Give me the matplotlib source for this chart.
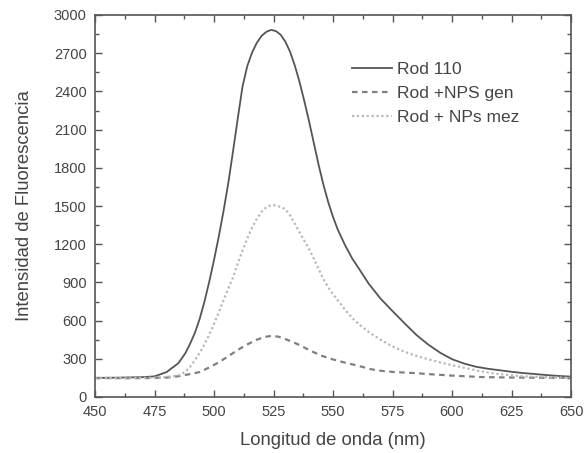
import matplotlib
matplotlib.use("Agg")
import matplotlib.pyplot as plt
from matplotlib.ticker import MultipleLocator

plt.rcParams['font.family'] = ['Liberation Sans', 'DejaVu Sans']

# Rod 110 (solid)
wl_rod = [450, 460, 470, 475, 480, 485, 488, 490, 492, 494, 496, 498, 500, 502, 504,
          506, 508, 510, 512, 514, 516, 518, 520, 522, 524, 526, 528, 530, 532, 534,
          536, 538, 540, 542, 544, 546, 548, 550, 552, 555, 558, 561, 565, 570, 575,
          580, 585, 590, 595, 600, 605, 610, 615, 620, 625, 630, 635, 640, 645, 650]
int_rod = [150, 152, 156, 162, 195, 265, 345, 420, 505, 615, 750, 905, 1075, 1260, 1460,
           1680, 1930, 2190, 2440, 2600, 2705, 2782, 2836, 2868, 2883, 2874, 2845, 2790, 2710, 2600,
           2470, 2320, 2160, 1990, 1820, 1665, 1530, 1415, 1315, 1195, 1090, 1005, 890, 772, 675,
           580, 488, 412, 348, 297, 263, 238, 222, 210, 198, 188, 180, 172, 165, 160]

# Rod +NPS gen (dashed)
wl_gen = [450, 460, 470, 475, 480, 485, 490, 494, 498, 502, 506, 510, 514, 518, 521,
          524, 527, 530, 533, 536, 540, 545, 550, 555, 560, 566, 570, 575, 580, 585,
          590, 600, 612, 620, 630, 640, 650]
int_gen = [150, 148, 148, 150, 152, 163, 180, 196, 232, 272, 320, 370, 413, 450, 470,
           480, 474, 455, 432, 408, 368, 325, 295, 270, 248, 218, 206, 197, 192, 187,
           180, 168, 157, 154, 152, 151, 150]

# Rod + NPs mez (dotted)
wl_mez = [450, 460, 470, 475, 480, 484, 486, 488, 490, 492, 494, 496, 498, 500, 502,
          504, 506, 508, 510, 512, 514, 516, 518, 520, 522, 524, 526, 528, 530, 532,
          534, 536, 538, 540, 542, 544, 546, 548, 550, 552, 555, 558, 561, 565, 570,
          575, 580, 585, 590, 596, 600, 605, 610, 616, 620, 625, 630, 640, 650]
int_mez = [148, 148, 150, 152, 157, 166, 175, 200, 238, 290, 346, 415, 490, 575, 665,
           760, 850, 940, 1050, 1150, 1245, 1330, 1400, 1455, 1490, 1507, 1505, 1492, 1475, 1425,
           1360, 1292, 1225, 1160, 1085, 1005, 925, 860, 808, 760, 687, 622, 570, 510, 450,
           397, 356, 323, 296, 267, 250, 230, 210, 189, 180, 170, 162, 155, 150]

labels = ["Rod 110", "Rod +NPS gen", "Rod + NPs mez"]
x_ticks = [450, 475, 500, 525, 550, 575, 600, 625, 650]
y_ticks = [0, 300, 600, 900, 1200, 1500, 1800, 2100, 2400, 2700, 3000]

fig = plt.figure(figsize=(5.84, 4.53), dpi=100)
ax = fig.add_axes([95/584, 1-397/453, (571-95)/584, (397-15)/453])

ax.plot(wl_rod, int_rod, color='#555555', lw=1.3, ls='-', label=labels[0])
ax.plot(wl_gen, int_gen, color='#808080', lw=1.6, ls=(0, (2.5, 2)), label=labels[1])
ax.plot(wl_mez, int_mez, color='#b8b8b8', lw=1.6, ls=(0, (1, 1.2)), label=labels[2])

ax.set_xlim(450, 650)
ax.set_ylim(0, 3000)
ax.set_xticks(x_ticks)
ax.set_yticks(y_ticks)
ax.xaxis.set_minor_locator(MultipleLocator(12.5))
ax.yaxis.set_minor_locator(MultipleLocator(150))
ax.tick_params(which='both', direction='in', top=True, right=True, colors='#555555',
               labelcolor='#444444', labelsize=10.5, width=1.0)
ax.tick_params(which='major', length=5, pad=6)
ax.tick_params(which='minor', length=3)
for s in ax.spines.values():
    s.set_color('#555555')
    s.set_linewidth(1.2)

ax.set_xlabel("Longitud de onda (nm)", fontsize=13.3, color='#444444', labelpad=9)
ax.set_ylabel("Intensidad de Fluorescencia", fontsize=13.3, color='#444444', labelpad=15)

ax.legend(loc='upper left', bbox_to_anchor=(0.522, 0.9), frameon=False, fontsize=12.5,
          handlelength=2.3, handletextpad=0.3, labelspacing=0.5, borderpad=0,
          labelcolor='#444444')

fig.savefig("out.png", dpi=100)
